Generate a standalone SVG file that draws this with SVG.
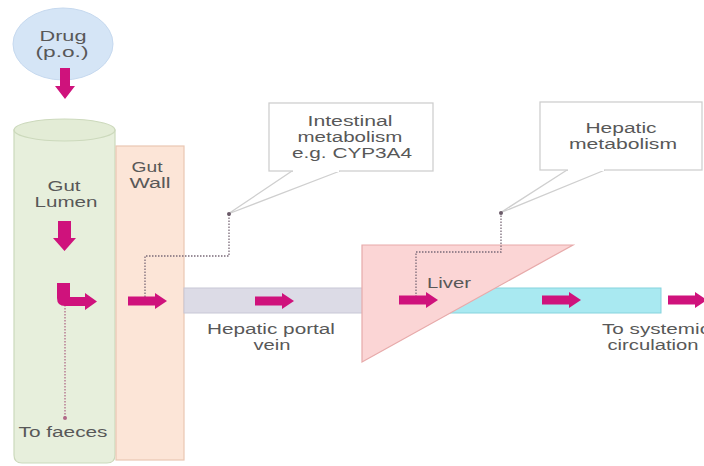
<svg xmlns="http://www.w3.org/2000/svg" width="704" height="466" viewBox="0 0 704 466">
<style>
text{font-family:"Liberation Sans",Arial,sans-serif;font-size:14px;fill:#585858;text-anchor:middle}
.arr{fill:#cf127c}
.dot{fill:none;stroke:#7a6a78;stroke-width:1.3;stroke-dasharray:1.5 1.5}
.call{fill:#fff;stroke:#cfcfcf;stroke-width:1.3}
.pin{fill:#6a5a68}
</style>
<defs>
<path id="ra" d="M0,-4.5 H27 V-8 L39,0 L27,8 V4.5 H0 Z"/>
</defs>
<rect width="704" height="466" fill="#fff"/>
<g id="drug">
<ellipse cx="63" cy="44" rx="50" ry="36" fill="#d5e5f6" stroke="#c6d9ef" stroke-width="1"/>
<text x="63" y="41" textLength="47" lengthAdjust="spacingAndGlyphs">Drug</text>
<text x="62" y="57" textLength="53" lengthAdjust="spacingAndGlyphs">(p.o.)</text>
</g>
<g id="lumen">
<path d="M14,130 V455 Q14,463 22,463 H107 Q115,463 115,455 V130 Z" fill="#e7efdc" stroke="#ccd9bc" stroke-width="1.2"/>
<ellipse cx="64.5" cy="130" rx="50.5" ry="11" fill="#e3ecd6" stroke="#ccd9bc" stroke-width="1.2"/>
<text x="64" y="191" textLength="33" lengthAdjust="spacingAndGlyphs">Gut</text>
<text x="66" y="207" textLength="63" lengthAdjust="spacingAndGlyphs">Lumen</text>
<text x="63" y="437" textLength="89" lengthAdjust="spacingAndGlyphs">To faeces</text>
</g>
<g id="wall">
<rect x="116" y="146" width="68" height="314" fill="#fce5d7" stroke="#e9c7b3" stroke-width="1.2"/>
<text x="147" y="172" textLength="31" lengthAdjust="spacingAndGlyphs">Gut</text>
<text x="150" y="188" textLength="41" lengthAdjust="spacingAndGlyphs">Wall</text>
</g>
<g id="portal">
<rect x="184" y="288" width="180" height="25" fill="#dcdbe6" stroke="#c8c7d6" stroke-width="1"/>
<text x="271" y="334" textLength="128" lengthAdjust="spacingAndGlyphs">Hepatic portal</text>
<text x="272" y="350" textLength="37" lengthAdjust="spacingAndGlyphs">vein</text>
</g>
<g id="systemic">
<rect x="400" y="288" width="261" height="25" fill="#a9e9f1" stroke="#86d3dd" stroke-width="1"/>
<text x="656" y="334" textLength="108" lengthAdjust="spacingAndGlyphs">To systemic</text>
<text x="653" y="350" textLength="91" lengthAdjust="spacingAndGlyphs">circulation</text>
</g>
<g id="liver">
<polygon points="362,245 573,245 362,362" fill="#fbd5d5" stroke="#e7aaaa" stroke-width="1.2"/>
<text x="449" y="288" textLength="44" lengthAdjust="spacingAndGlyphs">Liver</text>
</g>
<g id="intestinal">
<polygon class="call" points="292,171 228,214 340,171"/>
<rect x="269" y="103" width="164" height="68" class="call"/>
<line x1="293" y1="171" x2="339" y2="171" stroke="#fff" stroke-width="2"/>
<text x="350" y="126" textLength="85" lengthAdjust="spacingAndGlyphs">Intestinal</text>
<text x="350" y="142" textLength="105" lengthAdjust="spacingAndGlyphs">metabolism</text>
<text x="352" y="158" textLength="120" lengthAdjust="spacingAndGlyphs">e.g. CYP3A4</text>
</g>
<g id="hepatic">
<polygon class="call" points="567,170 500,213 605,170"/>
<rect x="540" y="102" width="162" height="68" class="call"/>
<line x1="568" y1="170" x2="604" y2="170" stroke="#fff" stroke-width="2"/>
<text x="621" y="133" textLength="71" lengthAdjust="spacingAndGlyphs">Hepatic</text>
<text x="623" y="149" textLength="108" lengthAdjust="spacingAndGlyphs">metabolism</text>
</g>
<g id="connectors">
<path class="dot" d="M145,300 V256 H229 V214"/>
<circle class="pin" cx="229" cy="214" r="2"/>
<path class="dot" d="M416,300 V252 H501 V213"/>
<circle class="pin" cx="501" cy="213" r="2"/>
<path class="dot" d="M65,305 V418" style="stroke:#b06a88"/>
<circle cx="65" cy="418" r="2" fill="#b06a88"/>
<path class="arr" d="M60,68 H70 V86 H75 L65,99 L55,86 H60 Z"/>
<path class="arr" d="M58,221 H71 V238 H76 L64.5,251 L53,238 H58 Z"/>
<path class="arr" d="M57,283 H70 V297 H85 V293 L97,301.5 L85,310 V306 H65 Q57,306 57,298 Z"/>
<use href="#ra" class="arr" x="128" y="301"/>
<use href="#ra" class="arr" x="255" y="301"/>
<use href="#ra" class="arr" x="399" y="300"/>
<use href="#ra" class="arr" x="542" y="300"/>
<use href="#ra" class="arr" x="668" y="300"/>
</g>
</svg>
